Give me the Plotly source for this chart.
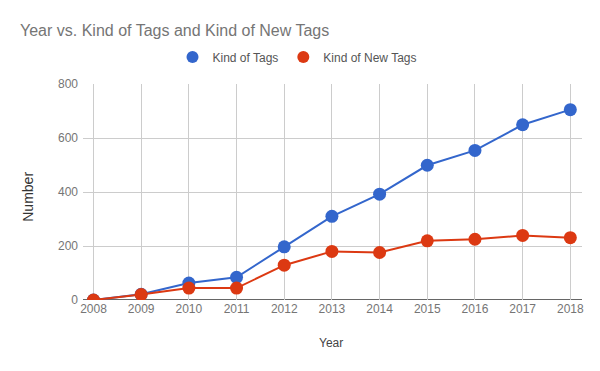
import plotly.graph_objects as go

years = [2008, 2009, 2010, 2011, 2012, 2013, 2014, 2015, 2016, 2017, 2018]
kind_of_tags = [0, 21, 63, 84, 197, 310, 392, 499, 554, 649, 705]
kind_of_new_tags = [0, 20, 44, 44, 129, 180, 176, 219, 225, 239, 231]
series = [("Kind of Tags", kind_of_tags, "#3366cc"), ("Kind of New Tags", kind_of_new_tags, "#dc3912")]

FONT = "Arial, Liberation Sans, sans-serif"

fig = go.Figure()
for name, vals, col in series:
    fig.add_trace(go.Scatter(x=years, y=vals, mode="lines+markers", name=name, legendgroup=name,
                             showlegend=False, line=dict(color=col, width=2),
                             marker=dict(size=13, color=col)))
for name, vals, col in series:
    # legend-only entry (dot symbol like the reference)
    fig.add_trace(go.Scatter(x=[None], y=[None], mode="markers", name=name, legendgroup=name,
                             marker=dict(size=12, color=col)))

PW, PH = 499, 216.5

fig.update_layout(
    width=600, height=371,
    margin=dict(l=83, r=18, t=84, b=71, autoexpand=False),
    paper_bgcolor="white", plot_bgcolor="white",
    font=dict(family=FONT, size=12, color="#757575"),
    title=dict(text="Year vs. Kind of Tags and Kind of New Tags", x=20/600, xanchor="left",
               y=1 - 30/371, yanchor="middle", font=dict(size=16, color="#757575")),
    legend=dict(orientation="h", x=(297 - 83) / PW, xanchor="center", y=1 + (84 - 57) / PH,
                yanchor="middle", font=dict(size=12, color="#555555"), itemwidth=30,
                traceorder="normal", bgcolor="rgba(0,0,0,0)"),
    showlegend=True,
    xaxis=dict(range=[2007.78, 2018.245], tickmode="array", tickvals=years,
               ticktext=[str(y) for y in years], showgrid=True, gridcolor="#cccccc",
               zeroline=False, showline=False, ticks="", automargin=False,
               tickfont=dict(size=12, color="#757575")),
    yaxis=dict(range=[0, 800], tickvals=[0, 200, 400, 600, 800], showgrid=True, gridcolor="#cccccc",
               zeroline=False, ticks="", automargin=False, tickfont=dict(size=12, color="#757575"),
               ticklabelstandoff=4),
    annotations=[
        dict(text="Year", xref="paper", yref="paper", x=(331 - 83) / PW, y=-(344 - 300.5) / PH,
             xanchor="center", yanchor="middle", showarrow=False,
             font=dict(size=12, color="#444444")),
        dict(text="Number", xref="paper", yref="paper", x=(28 - 83) / PW, y=(300.5 - 197) / PH,
             xanchor="center", yanchor="middle", textangle=-90, showarrow=False,
             font=dict(size=14, color="#333333")),
    ],
    shapes=[dict(type="line", xref="paper", yref="y", x0=0, x1=1, y0=0, y1=0,
                 line=dict(color="#333333", width=1.5), layer="below")],
)

fig.write_html("out.html", config={"displayModeBar": False},
               post_script="document.body.style.margin='0';")
